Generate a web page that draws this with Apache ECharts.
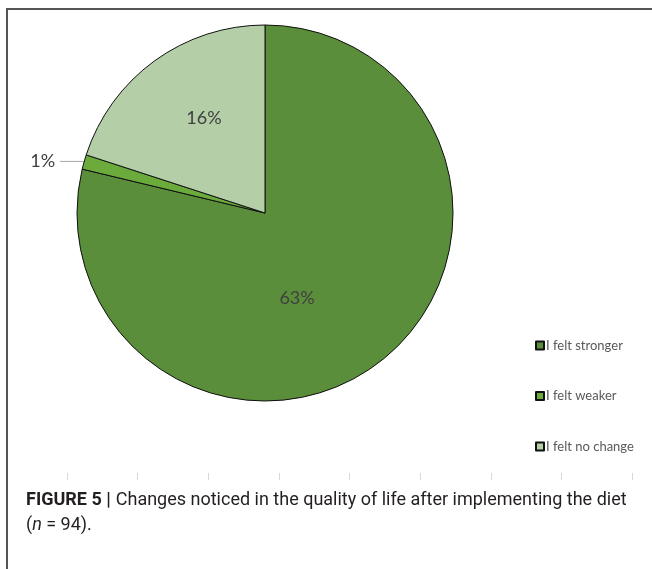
<!DOCTYPE html>
<html>
<head>
<meta charset="utf-8">
<script src="https://cdn.jsdelivr.net/npm/echarts@6/dist/echarts.min.js"></script>
<style>
html,body{margin:0;padding:0;background:#fff;}
#chart{width:652px;height:569px;}
</style>
</head>
<body>
<div id="chart"></div>
<script>
// Data
var categories = ['I felt stronger', 'I felt weaker', 'I felt no change'];
var values = [63, 1, 16];
var tickCategories = ['', '', '', '', '', '', '', ''];

// Styles (kept separate from data)
var sliceColors = ['#5a8e3a', '#6aab3c', '#b4cfa8'];
var labelShift = [[-28, 9], [0, 0], [-4, -16]];
var labelPos = ['inside', 'outside', 'inside'];

var chart = echarts.init(document.getElementById('chart'), null, {renderer: 'canvas'});

var pieData = categories.map(function (name, i) {
  return {
    name: name,
    value: values[i],
    itemStyle: {color: sliceColors[i]},
    label: {position: labelPos[i]},
    labelLine: {show: labelPos[i] === 'outside'}
  };
});

var option = {
  backgroundColor: '#ffffff',
  animation: false,
  title: {
    left: 21,
    top: 483,
    text: '{b|FIGURE 5 |} {r|Changes noticed in the quality of life after implementing the diet}\n{r|(}{i|n}{r| = 94).}',
    textStyle: {
      rich: {
        b: {fontFamily: 'Roboto', fontWeight: 'bold', fontSize: 18, color: '#231f20', lineHeight: 25},
        r: {fontFamily: 'Roboto', fontWeight: 'normal', fontSize: 18, color: '#231f20', lineHeight: 25},
        i: {fontFamily: 'Roboto', fontStyle: 'italic', fontWeight: 'normal', fontSize: 18, color: '#231f20', lineHeight: 25}
      }
    }
  },
  legend: {
    orient: 'vertical',
    left: 530,
    top: 334,
    itemGap: 37.5,
    itemWidth: 8,
    itemHeight: 8,
    icon: 'rect',
    data: categories,
    textStyle: {fontFamily: 'Lato', fontSize: 13, color: '#595959', padding: [0, 0, 0, -3]}
  },
  grid: {left: 67, right: 20, top: 100, bottom: 96, show: false},
  xAxis: {
    type: 'category',
    data: tickCategories,
    boundaryGap: true,
    axisLine: {show: false},
    axisLabel: {show: false},
    axisTick: {show: true, length: 7, lineStyle: {color: '#d9d9d9', width: 1}},
    splitLine: {show: false}
  },
  yAxis: {type: 'value', show: false},
  graphic: [
    {
      type: 'polyline',
      shape: {points: [[7, 570], [7, 9], [652, 9]]},
      style: {stroke: '#555555', lineWidth: 2, fill: null},
      silent: true
    }
  ],
  series: [
    {
      type: 'pie',
      center: [265, 213],
      radius: [0, 188],
      startAngle: 90,
      clockwise: true,
      avoidLabelOverlap: false,
      minAngle: 0,
      data: pieData,
      itemStyle: {borderColor: '#111111', borderWidth: 1},
      label: {
        show: true,
        formatter: '{c}%',
        fontFamily: 'Lato',
        fontSize: 18,
        color: '#404040'
      },
      labelLine: {
        length: 2,
        length2: 22,
        lineStyle: {color: '#a6a6a6', width: 1}
      },
      labelLayout: function (params) {
        var s = labelShift[params.dataIndex];
        return {dx: s[0], dy: s[1]};
      },
      emphasis: {disabled: true}
    }
  ]
};

chart.setOption(option);
</script>
</body>
</html>
